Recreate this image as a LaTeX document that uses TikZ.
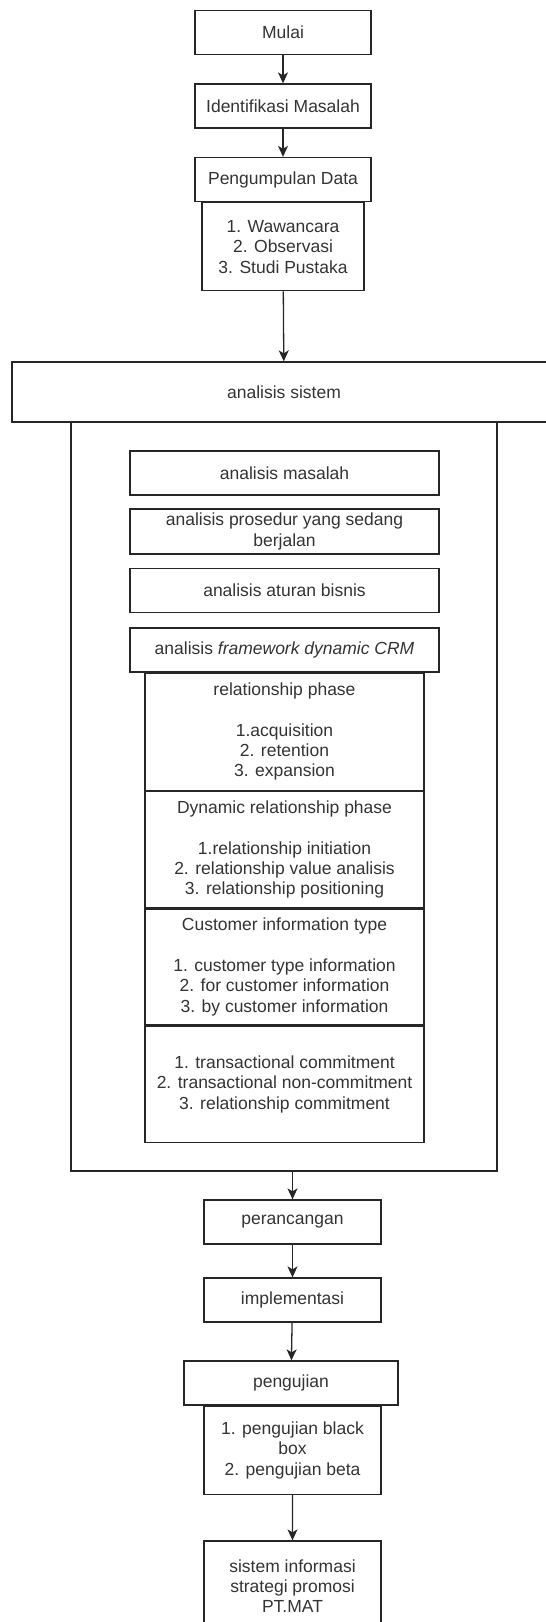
\documentclass[tikz,border=0pt]{standalone}
\usepackage{fontspec}
\setmainfont{Liberation Sans}
\usepackage{tikz}
\usetikzlibrary{positioning,arrows.meta}
\tikzstyle{arrow} = [line width=1.3bp, draw=black!85, -{Stealth[length=11bp,width=10bp,inset=3bp]}]

\begin{document}
\begin{tikzpicture}[x=1bp, y=-1bp,
    box/.style={rectangle, draw=black!85, line width=1.3bp, inner sep=0pt,
                align=center, text=black!80,
                font=\fontsize{17.5bp}{20.3bp}\selectfont},
    langkah/.style={box, minimum width=176bp, minimum height=44bp},
    analisis/.style={box, minimum width=309bp, minimum height=44bp},
    fase/.style={box, minimum width=279bp, minimum height=116bp}]
    \clip (0,0) rectangle (546,1622);

    % alur awal
    \node[langkah] (mulai) at (283,32.5) {Mulai};
    \node[langkah] (identifikasi) at (283,106) {Identifikasi Masalah};
    \node[langkah] (kumpul) at (283,179.5) {Pengumpulan Data};
    \node[box, minimum width=162bp, minimum height=88bp, below=0pt of kumpul] (kumpulisi)
        {1. Wawancara\\2. Observasi\\3. Studi Pustaka};

    % analisis sistem
    \node[box, minimum width=544bp, minimum height=60bp] (sistem) at (284,392) {analisis sistem};
    \node[box, minimum width=426bp, minimum height=749bp] (wadah) at (284,796.5) {};
    \node[analisis] (masalah) at (284.5,473) {analisis masalah};
    \node[analisis, minimum height=45bp] (prosedur) at (284.5,531.5) {analisis prosedur yang sedang\\berjalan};
    \node[analisis] (aturan) at (284.5,590.5) {analisis aturan bisnis};
    \node[analisis] (framework) at (284.5,650) {analisis \textit{framework dynamic CRM}};
    \node[fase, minimum height=117bp, below=0pt of framework] (rphase)
        {relationship phase\\[20.3bp]1.acquisition\\2. retention\\3. expansion};
    \node[fase, below=0pt of rphase] (dphase)
        {Dynamic relationship phase\\[20.3bp]1.relationship initiation\\2. relationship value analisis\\3. relationship positioning};
    \node[fase, below=0pt of dphase] (ctype)
        {Customer information type\\[20.3bp]1. customer type information\\2. for customer information\\3. by customer information};
    \node[fase, below=0pt of ctype] (commit)
        {1. transactional commitment\\2. transactional non-commitment\\3. relationship commitment};

    % alur akhir
    \node[langkah, minimum width=177bp] (rancang) at (292.5,1222) {perancangan};
    \node[langkah, minimum width=177bp] (implementasi) at (292.5,1300) {implementasi};
    \node[box, minimum width=214bp, minimum height=44bp] (uji) at (291,1383) {pengujian};
    \node[box, minimum width=177bp, minimum height=88bp, below=0pt of uji, xshift=1.5bp] (ujiisi)
        {1. pengujian black\\box\\2. pengujian beta};
    \node[box, minimum width=177bp, minimum height=90bp] (hasil) at (292.5,1586)
        {sistem informasi\\strategi promosi\\PT.MAT};

    \draw[arrow] (mulai) -- (identifikasi);
    \draw[arrow] (identifikasi) -- (kumpul);
    \draw[arrow] (kumpulisi) -- (sistem);
    \draw[arrow] (rancang.north |- wadah.south) -- (rancang);
    \draw[arrow] (rancang) -- (implementasi);
    \draw[arrow] (implementasi) -- (uji);
    \draw[arrow] (ujiisi) -- (hasil);
\end{tikzpicture}
\end{document}
